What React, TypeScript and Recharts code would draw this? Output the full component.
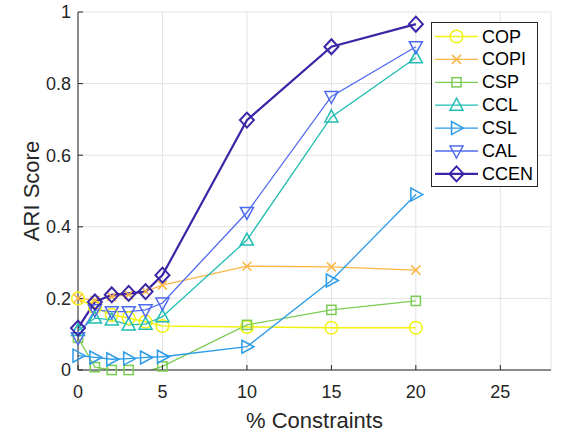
import { CartesianGrid, Label, Line, LineChart, XAxis, YAxis } from "recharts";

const constraints = [0, 1, 2, 3, 4, 5, 10, 15, 20];
const cop = [0.2, 0.175, 0.154, 0.145, 0.135, 0.123, 0.12, 0.118, 0.118];
const copi = [0.2, 0.195, 0.205, 0.21, 0.22, 0.237, 0.29, 0.288, 0.279];
const csp = [0.09, 0.008, 0, 0, -0.005, 0.01, 0.126, 0.168, 0.193];
const ccl = [0.11, 0.145, 0.14, 0.126, 0.128, 0.149, 0.363, 0.707, 0.872];
const csl = [0.04, 0.035, 0.03, 0.032, 0.035, 0.037, 0.065, 0.25, 0.49];
const cal = [0.09, 0.168, 0.163, 0.163, 0.168, 0.187, 0.44, 0.764, 0.903];
const ccen = [0.117, 0.19, 0.21, 0.214, 0.219, 0.265, 0.698, 0.903, 0.966];

const xTicks = [0, 5, 10, 15, 20, 25];
const yTicks = [0, 0.2, 0.4, 0.6, 0.8, 1];

type Shape = "circle" | "cross" | "square" | "up" | "right" | "down" | "diamond";

type Series = {
  name: string;
  values: number[];
  color: string;
  shape: Shape;
  width: number;
};

const series: Series[] = [
  { name: "COP", values: cop, color: "#f2f211", shape: "circle", width: 1.5 },
  { name: "COPI", values: copi, color: "#fbb748", shape: "cross", width: 1.3 },
  { name: "CSP", values: csp, color: "#7ccb55", shape: "square", width: 1.3 },
  { name: "CCL", values: ccl, color: "#20bdb4", shape: "up", width: 1.3 },
  { name: "CSL", values: csl, color: "#2b9be9", shape: "right", width: 1.3 },
  { name: "CAL", values: cal, color: "#4f6af2", shape: "down", width: 1.3 },
  { name: "CCEN", values: ccen, color: "#3b25a7", shape: "diamond", width: 2.2 },
];

const data = constraints.map((x, i) => {
  const row: Record<string, number> = { x };
  series.forEach((s) => {
    row[s.name] = s.values[i];
  });
  return row;
});

const axisColor = "#262626";
const font = "'Liberation Sans', Arial, sans-serif";

function Marker({
  shape,
  x,
  y,
  color,
  sw,
}: {
  shape: Shape;
  x: number;
  y: number;
  color: string;
  sw: number;
}) {
  const common = { fill: "none", stroke: color, strokeWidth: sw };
  switch (shape) {
    case "circle":
      return <circle cx={x} cy={y} r={6.3} {...common} />;
    case "cross":
      return (
        <path
          d={`M${x - 4.5},${y - 4.5}L${x + 4.5},${y + 4.5}M${x - 4.5},${y + 4.5}L${x + 4.5},${y - 4.5}`}
          {...common}
        />
      );
    case "square":
      return <rect x={x - 4.6} y={y - 4.6} width={9.2} height={9.2} {...common} />;
    case "up":
      return <polygon points={`${x},${y - 7} ${x + 6.5},${y + 5} ${x - 6.5},${y + 5}`} {...common} />;
    case "down":
      return <polygon points={`${x},${y + 7} ${x + 6.5},${y - 5} ${x - 6.5},${y - 5}`} {...common} />;
    case "right":
      return <polygon points={`${x + 7},${y} ${x - 5},${y - 6.5} ${x - 5},${y + 6.5}`} {...common} />;
    case "diamond":
      return <polygon points={`${x},${y - 7.5} ${x + 7},${y} ${x},${y + 7.5} ${x - 7},${y}`} {...common} />;
  }
}

// markers go through the label layer so they are not clipped at the axes (like MATLAB)
function makeMarkers(s: Series) {
  return (props: any) => {
    const vb = props.viewBox || {};
    const x = vb.x ?? props.x;
    const y = vb.y ?? props.y;
    const value = Number(props.value);
    if (x == null || y == null || !(value >= 0)) {
      return <g />;
    }
    return (
      <Marker shape={s.shape} x={x} y={y} color={s.color} sw={s.shape === "diamond" ? 2 : 1.5} />
    );
  };
}

function LegendBox() {
  return (
    <svg
      width={107}
      height={165}
      style={{ position: "absolute", left: 431, top: 22, background: "#fff" }}
    >
      <rect x={0.5} y={0.5} width={106} height={164} fill="#fff" stroke={axisColor} strokeWidth={1} />
      {series.map((s, i) => {
        const cy = 14.5 + i * 22.9;
        return (
          <g key={s.name}>
            <line x1={4} x2={47} y1={cy} y2={cy} stroke={s.color} strokeWidth={s.width} />
            <Marker shape={s.shape} x={25.5} y={cy} color={s.color} sw={s.shape === "diamond" ? 2 : 1.5} />
            <text
              x={51}
              y={cy}
              dominantBaseline="central"
              fontFamily={font}
              fontSize={18}
              fill="#000"
            >
              {s.name}
            </text>
          </g>
        );
      })}
    </svg>
  );
}

export default function App() {
  return (
    <div style={{ position: "absolute", left: 0, top: 0, width: 563, height: 438, background: "#fff" }}>
      <LineChart
        width={563}
        height={438}
        data={data}
        margin={{ top: 12, right: 12, bottom: 0, left: 0 }}
      >
        <CartesianGrid stroke="#e3e3e3" strokeWidth={1} />
        <XAxis
          dataKey="x"
          type="number"
          domain={[0, 28]}
          ticks={xTicks}
          interval={0}
          allowDataOverflow
          height={68}
          tickSize={-5}
          tickMargin={20}
          axisLine={{ stroke: axisColor }}
          tickLine={{ stroke: axisColor }}
          tick={{ fill: axisColor, fontSize: 18, fontFamily: font }}
        >
          <Label
            content={() => (
              <text
                x={314.5}
                y={420}
                textAnchor="middle"
                dominantBaseline="central"
                fontFamily={font}
                fontSize={22}
                fill={axisColor}
              >
                % Constraints
              </text>
            )}
          />
        </XAxis>
        <YAxis
          type="number"
          domain={[0, 1]}
          ticks={yTicks}
          interval={0}
          allowDataOverflow
          width={78}
          tickSize={-5}
          tickMargin={12}
          axisLine={{ stroke: axisColor }}
          tickLine={{ stroke: axisColor }}
          tick={{ fill: axisColor, fontSize: 18, fontFamily: font }}
          tickFormatter={(v: number) => String(v)}
        >
          <Label
            content={() => (
              <text
                x={31}
                y={191}
                transform="rotate(-90 31 191)"
                textAnchor="middle"
                dominantBaseline="central"
                fontFamily={font}
                fontSize={22}
                fill={axisColor}
              >
                ARI Score
              </text>
            )}
          />
        </YAxis>
        {series.map((s) => (
          <Line
            key={s.name}
            type="linear"
            dataKey={s.name}
            stroke={s.color}
            strokeWidth={s.width}
            dot={false}
            activeDot={false}
            label={makeMarkers(s)}
            isAnimationActive={false}
          />
        ))}
      </LineChart>
      <LegendBox />
    </div>
  );
}
